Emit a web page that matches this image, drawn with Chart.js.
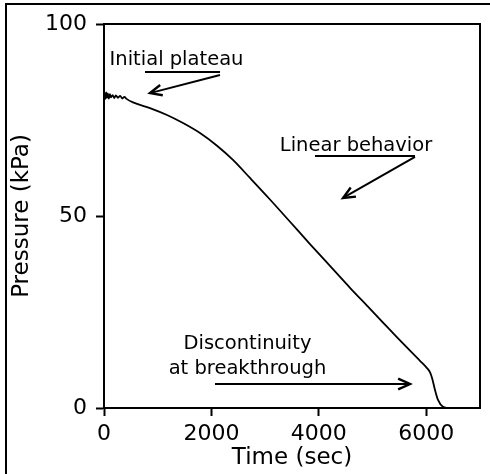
<!DOCTYPE html>
<html>
<head>
<meta charset="utf-8">
<script src="https://cdn.jsdelivr.net/npm/chart.js@4.4.1/dist/chart.umd.min.js"></script>
<style>
html,body{margin:0;padding:0;background:#fff;}
#wrap{width:490px;height:474px;position:relative;}
</style>
</head>
<body>
<div id="wrap"><canvas id="c" width="490" height="474"></canvas></div>
<script>
// ---- data ----
const timeSec = [0, 10, 25, 40, 55, 70, 90, 110, 130, 160, 190, 220, 260, 300, 340, 380, 420,
  540, 856, 1173, 1471, 1787, 2104, 2401, 2718, 3090, 3463, 3835, 4207, 4580, 4900, 5138, 5511, 5883, 6013,
  6070, 6106, 6162, 6218, 6311, 6404];
const pressureKPa = [79.5, 82.0, 80.5, 82.2, 80.8, 81.9, 80.6, 81.7, 80.9, 81.5, 80.7, 81.4, 80.8, 81.3, 80.6, 81.0, 80.5,
  79.6, 78.1, 76.3, 74.2, 71.6, 68.3, 64.6, 59.9, 54.3, 48.5, 42.7, 37.0, 31.3, 26.6, 23.1, 17.6, 12.3, 10.4,
  9.3, 7.9, 4.7, 2.1, 0.3, 0.0];
const xTicks = [0, 2000, 4000, 6000];
const yTicks = [0, 50, 100];
const xLabel = 'Time (sec)';
const yLabel = 'Pressure (kPa)';
const notes = [
  {lines: ['Initial plateau'], t: 1350, p: 89.3, underline: [763, 2160, 87.5], arrow: [2160, 86.7, 856, 82.0]},
  {lines: ['Linear behavior'], t: 4692, p: 66.9, underline: [3928, 5790, 65.6], arrow: [5790, 65.4, 4450, 54.7]},
  {lines: ['Discontinuity', 'at breakthrough'], t: 2671, p: 15.4, lineStepP: 6.5, underline: null, arrow: [2066, 6.25, 5697, 6.25]}
];

const points = timeSec.map((t, i) => ({x: t, y: pressureKPa[i]}));
const FONT = '"DejaVu Sans", sans-serif';

const decor = {
  id: 'decor',
  afterDraw(chart) {
    const ctx = chart.ctx, xs = chart.scales.x, ys = chart.scales.y, a = chart.chartArea;
    ctx.save();
    ctx.strokeStyle = '#000'; ctx.lineWidth = 2;
    ctx.beginPath(); ctx.moveTo(6, 474); ctx.lineTo(6, 4); ctx.lineTo(490, 4); ctx.stroke();
    ctx.beginPath(); ctx.moveTo(a.left, a.top); ctx.lineTo(a.right, a.top); ctx.lineTo(a.right, a.bottom); ctx.stroke();
    ctx.fillStyle = '#000';
    ctx.font = '19.5px ' + FONT;
    ctx.textAlign = 'center'; ctx.textBaseline = 'alphabetic';
    notes.forEach(n => {
      n.lines.forEach((s, k) => {
        const py = ys.getPixelForValue(n.p - k * (n.lineStepP || 0));
        ctx.fillText(s, xs.getPixelForValue(n.t), py);
      });
      ctx.lineWidth = 2;
      if (n.underline) {
        const [t0, t1, p] = n.underline;
        ctx.beginPath();
        ctx.moveTo(xs.getPixelForValue(t0), ys.getPixelForValue(p));
        ctx.lineTo(xs.getPixelForValue(t1), ys.getPixelForValue(p));
        ctx.stroke();
      }
      const [t0, p0, t1, p1] = n.arrow;
      const x0 = xs.getPixelForValue(t0), y0 = ys.getPixelForValue(p0);
      const x1 = xs.getPixelForValue(t1), y1 = ys.getPixelForValue(p1);
      ctx.beginPath(); ctx.moveTo(x0, y0); ctx.lineTo(x1, y1); ctx.stroke();
      const ang = Math.atan2(y1 - y0, x1 - x0), L = 13, w = 0.42;
      ctx.lineWidth = 2.4;
      ctx.beginPath();
      ctx.moveTo(x1 - L * Math.cos(ang - w), y1 - L * Math.sin(ang - w));
      ctx.lineTo(x1, y1);
      ctx.lineTo(x1 - L * Math.cos(ang + w), y1 - L * Math.sin(ang + w));
      ctx.stroke();
    });
    ctx.restore();
  }
};

new Chart(document.getElementById('c'), {
  type: 'scatter',
  data: {
    datasets: [{
      data: points,
      showLine: true,
      borderColor: '#000',
      borderWidth: 1.8,
      pointRadius: 0,
      cubicInterpolationMode: 'monotone'
    }]
  },
  options: {
    responsive: false,
    animation: false,
    layout: {padding: {top: 24, right: 10, left: 0, bottom: 0}},
    plugins: {legend: {display: false}, tooltip: {enabled: false}},
    scales: {
      x: {
        type: 'linear', min: 0, max: 7000,
        afterBuildTicks: s => { s.ticks = xTicks.map(v => ({value: v})); },
        afterFit: s => { s.height = 66; },
        grid: {display: true, drawOnChartArea: false, drawTicks: true, tickLength: 8, tickWidth: 2, color: '#000'},
        border: {display: true, width: 2, color: '#000'},
        ticks: {color: '#000', font: {family: FONT, size: 22}, padding: 5, maxRotation: 0, callback: v => String(v)},
        title: {display: true, text: xLabel, color: '#000', font: {family: FONT, size: 23}, padding: {top: 0, bottom: 2}}
      },
      y: {
        type: 'linear', min: 0, max: 100,
        afterBuildTicks: s => { s.ticks = yTicks.map(v => ({value: v})); },
        afterFit: s => { s.width = 104; },
        grid: {display: true, drawOnChartArea: false, drawTicks: true, tickLength: 8, tickWidth: 2, color: '#000'},
        border: {display: true, width: 2, color: '#000'},
        ticks: {color: '#000', font: {family: FONT, size: 22}, padding: 9, callback: v => String(v)},
        title: {display: true, text: yLabel, color: '#000', font: {family: FONT, size: 23}, padding: {top: 8, bottom: 0}}
      }
    }
  },
  plugins: [decor]
});
</script>
</body>
</html>
